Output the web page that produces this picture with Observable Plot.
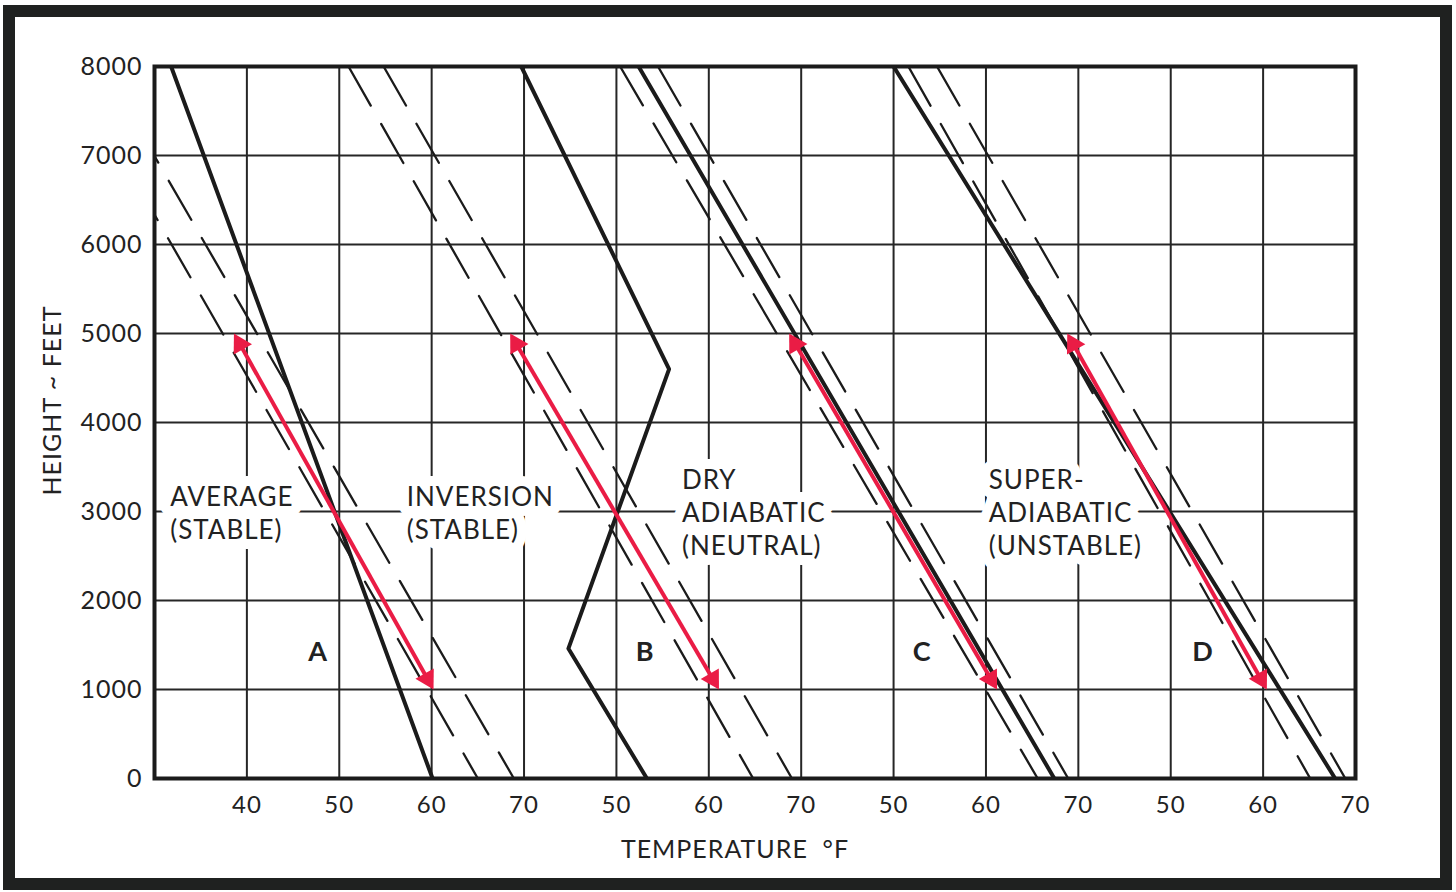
<!DOCTYPE html>
<html>
<head>
<meta charset="utf-8">
<script src="https://cdn.jsdelivr.net/npm/d3@7"></script>
<script src="https://cdn.jsdelivr.net/npm/@observablehq/plot@0.6"></script>
<style>
html, body { margin: 0; padding: 0; background: #fff; }
#wrap { position: relative; width: 1456px; height: 892px; overflow: hidden; }
#border { position: absolute; left: 3px; top: 5px; width: 1425px; height: 861px; border: 12px solid #1f2120; pointer-events: none; }
#chart svg { display: block; }
</style>
</head>
<body>
<div id="wrap"><div id="chart"></div><div id="border"></div></div>
<script>
// ---------- data ----------
// shared temperature axis: four panels, each re-labelled 50-60-70
const xTicks = [40, 50, 60, 70, 80, 90, 100, 110, 120, 130, 140, 150, 160];
const xTickLabels = ["40", "50", "60", "70", "50", "60", "70", "50", "60", "70", "50", "60", "70"];
const yTicks = [0, 1000, 2000, 3000, 4000, 5000, 6000, 7000, 8000];

const panels = ["A", "B", "C", "D"];
const panelShift = [0, 30, 60, 90]; // how far each panel's temperature scale is shifted on the shared axis

// solid temperature profiles (height ft, temperature °F)
const profileHeights = [[0, 8000], [0, 1460, 4600, 8000], [0, 8000], [0, 8000]];
const profileTemps   = [[60.1, 31.8], [53.3, 44.8, 55.7, 39.7], [67.4, 22.4], [67.8, 20.0]];

// red rising/sinking parcel arrows (dry adiabatic), 5000 ft -> 1000 ft
const parcelHeights = [5000, 1000];
const parcelTopTemps    = [38.6, 38.5, 38.7, 38.8];
const parcelBottomTemps = [60.2, 61.1, 61.2, 60.4];

// dashed dry adiabats: temperature at 8000 ft and at 0 ft
const adiabatHeights = [8000, 0];
const adiabatTopTemps    = [[20.8, 24.4], [21.0, 24.8], [20.4, 24.5], [21.6, 24.7]];
const adiabatBottomTemps = [[65.0, 68.9], [64.8, 69.0], [65.6, 68.9], [65.1, 68.9]];

// labels
const labelTexts = ["AVERAGE\n(STABLE)", "INVERSION\n(STABLE)", "DRY\nADIABATIC\n(NEUTRAL)", "SUPER-\nADIABATIC\n(UNSTABLE)"];
const labelTemps = [31.7, 27.3, 27.1, 30.3];
const labelHeight = 3000;
const letterTemps = [47.7, 53.1, 53.1, 53.5];
const letterHeight = 1420;

const xTitle = "TEMPERATURE  °F";
const yTitle = "HEIGHT ~ FEET";

// ---------- layout ----------
const W = 1456, H = 892;
const mL = 154, mR = 101, mT = 66, mB = 114;
const xDomain = [30, 160], yDomain = [0, 8000];
const pxPerX = (W - mL - mR) / (xDomain[1] - xDomain[0]);
const pxPerY = (H - mT - mB) / (yDomain[1] - yDomain[0]);
const red = "#ea1c45";
const ink = "#1b1b1b";
const headR = 7.8;

// ---------- build rows ----------
const profiles = [];
panels.forEach((p, i) => profileHeights[i].forEach((h, k) =>
  profiles.push({panel: p, x: profileTemps[i][k] + panelShift[i], y: h})));

const adiabats = [];
panels.forEach((p, i) => [0, 1].forEach(j => {
  adiabats.push({id: p + j, x: adiabatTopTemps[i][j] + panelShift[i], y: adiabatHeights[0]});
  adiabats.push({id: p + j, x: adiabatBottomTemps[i][j] + panelShift[i], y: adiabatHeights[1]});
}));

const shafts = [], heads = [];
panels.forEach((p, i) => {
  const xt = parcelTopTemps[i] + panelShift[i], yt = parcelHeights[0];
  const xb = parcelBottomTemps[i] + panelShift[i], yb = parcelHeights[1];
  const dxp = (xb - xt) * pxPerX, dyp = (yt - yb) * pxPerY;
  const len = Math.hypot(dxp, dyp), ux = dxp / len, uy = dyp / len;
  const d = 1.555 * headR;
  const topC = {x: xt + d * ux / pxPerX, y: yt - d * uy / pxPerY, angle: Math.atan2(-ux, uy) * 180 / Math.PI};
  const botC = {x: xb - d * ux / pxPerX, y: yb + d * uy / pxPerY, angle: Math.atan2(ux, -uy) * 180 / Math.PI};
  heads.push(topC, botC);
  shafts.push({x1: topC.x, y1: topC.y, x2: botC.x, y2: botC.y});
});

const labels = labelTexts.map((t, i) => ({text: t, x: labelTemps[i] + panelShift[i], y: labelHeight}));
const letters = panels.map((p, i) => ({text: p, x: letterTemps[i] + panelShift[i], y: letterHeight}));

const labelOpts = {x: "x", y: "y", text: "text", textAnchor: "start", lineAnchor: "middle", lineHeight: 1.28, fontSize: 26};

const chart = Plot.plot({
  width: W, height: H,
  marginLeft: mL, marginRight: mR, marginTop: mT, marginBottom: mB,
  x: {domain: xDomain},
  y: {domain: yDomain},
  style: {fontFamily: "Lato, 'Open Sans', sans-serif", fontWeight: 400, color: "#222", background: "transparent", letterSpacing: "1px"},
  marks: [
    Plot.gridX(xTicks, {stroke: "#262626", strokeOpacity: 1, strokeWidth: 2}),
    Plot.gridY(yTicks, {stroke: "#262626", strokeOpacity: 1, strokeWidth: 2}),
    Plot.text(labels, {...labelOpts, fill: "white", stroke: "white", strokeWidth: 20}),
    Plot.line(adiabats, {x: "x", y: "y", z: "id", stroke: ink, strokeWidth: 2.3, strokeDasharray: "45,21", clip: true}),
    Plot.line(profiles, {x: "x", y: "y", z: "panel", stroke: ink, strokeWidth: 4, clip: true}),
    Plot.link(shafts, {x1: "x1", y1: "y1", x2: "x2", y2: "y2", stroke: red, strokeWidth: 4}),
    Plot.dot(heads, {x: "x", y: "y", r: headR, symbol: "triangle", fill: red, stroke: "none", rotate: "angle"}),
    Plot.frame({stroke: ink, strokeWidth: 4}),
    Plot.text(labels, {...labelOpts, fill: "#222"}),
    Plot.text(letters, {x: "x", y: "y", text: "text", fontSize: 27, fontWeight: "bold", fill: "#222"}),
    Plot.axisX(xTicks, {tickFormat: d => xTickLabels[xTicks.indexOf(d)], tickSize: 0, tickPadding: 17, fontSize: 24, label: null}),
    Plot.axisY(yTicks, {tickFormat: d => String(d), tickSize: 0, tickPadding: 12, fontSize: 25, label: null}),
    Plot.text([xTitle], {text: d => d, frameAnchor: "bottom", textAnchor: "middle", dx: -20, dy: 79, fontSize: 25}),
    Plot.text([yTitle], {text: d => d, frameAnchor: "left", textAnchor: "middle", dx: -102, dy: -22, rotate: -90, fontSize: 25})
  ]
});
document.getElementById("chart").appendChild(chart);
</script>
</body>
</html>
